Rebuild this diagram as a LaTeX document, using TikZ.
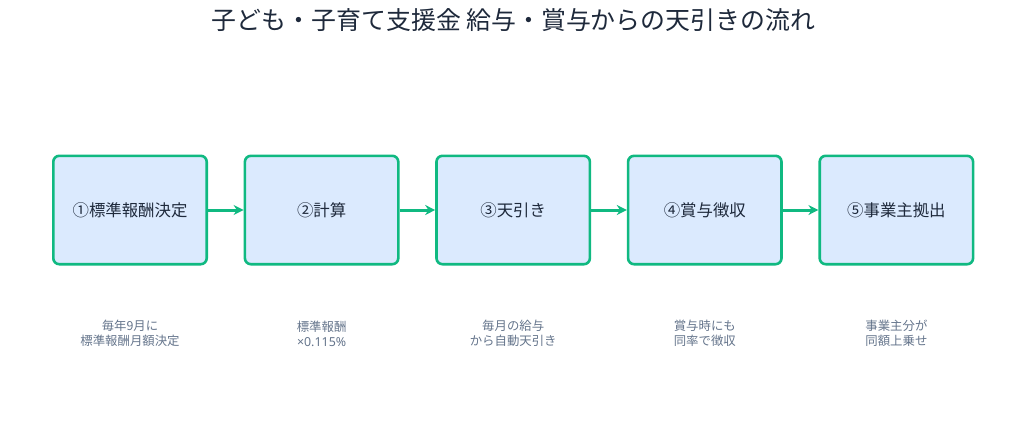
\documentclass[tikz,border=0pt]{standalone}
\usepackage{fontspec}
\setmainfont{Noto Sans CJK JP}
\newfontfamily\latinfont{Noto Sans}
\usepackage{xcolor}
\usetikzlibrary{arrows.meta,positioning}
\definecolor{stepgreen}{HTML}{10B981}
\definecolor{stepfill}{HTML}{DBEAFE}
\definecolor{titleink}{HTML}{1E293B}
\definecolor{noteink}{HTML}{64748B}

\begin{document}
\begin{tikzpicture}[
    x=1pt, y=1pt,
    font=\fontsize{16.4}{19}\selectfont,
    stepbox/.style={draw=stepgreen, line width=2.6pt, rounded corners=6pt, fill=stepfill,
                    minimum width=153.4pt, minimum height=108.4pt, text=titleink},
    note/.style={font=\fontsize{12.4}{15}\selectfont, text=noteink, align=center},
    arr/.style={-{Stealth[length=10pt, width=10pt]}, line width=3pt, stepgreen}
]
  \useasboundingbox (0,0) rectangle (1027,-432);
  \node[font=\fontsize{24.9}{29}\selectfont, text=titleink] (title) at (513.5,-20)
    {子ども・子育て支援金 給与・賞与からの天引きの流れ};

  \node[stepbox] (kettei) at (130,-210) {①標準報酬決定};
  \node[stepbox, right=35.6pt of kettei] (keisan) {②計算};
  \node[stepbox, right=35.6pt of keisan] (tenbiki) {③天引き};
  \node[stepbox, right=35.6pt of tenbiki] (shoyo) {④賞与徴収};
  \node[stepbox, right=35.6pt of shoyo] (kyoshutsu) {⑤事業主拠出};

  \node[note] (n1) at ([yshift=-123.5pt]kettei.center) {毎年9月に\\標準報酬月額決定};
  \node[note] (n2) at ([yshift=-123.5pt]keisan.center) {標準報酬\\{\latinfont ×0.115\%}};
  \node[note] (n3) at ([yshift=-123.5pt]tenbiki.center) {毎月の給与\\から自動天引き};
  \node[note] (n4) at ([yshift=-123.5pt]shoyo.center) {賞与時にも\\同率で徴収};
  \node[note] (n5) at ([yshift=-123.5pt]kyoshutsu.center) {事業主分が\\同額上乗せ};

  \draw[arr] (kettei) -- (keisan);
  \draw[arr] (keisan) -- (tenbiki);
  \draw[arr] (tenbiki) -- (shoyo);
  \draw[arr] (shoyo) -- (kyoshutsu);
\end{tikzpicture}
\end{document}
